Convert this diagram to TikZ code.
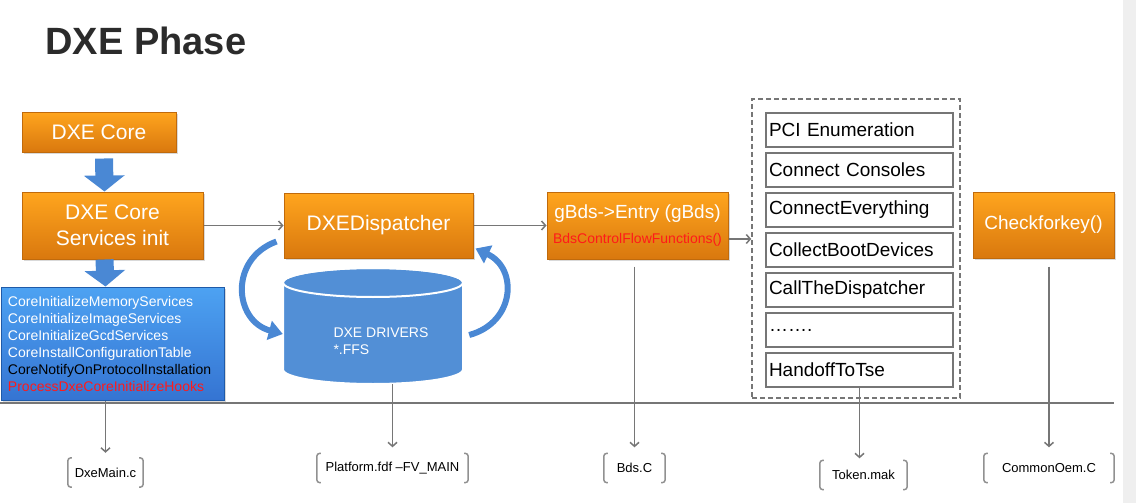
\documentclass[tikz,border=0pt]{standalone}
\usepackage{fontspec}
\setmainfont{Liberation Sans}
\usepackage{tikz}
\usetikzlibrary{positioning, arrows.meta, shadows}
\definecolor{DxeOrangeTop}{HTML}{FFA51E}
\definecolor{DxeOrangeBot}{HTML}{D9780E}
\definecolor{DxeOrangeLine}{HTML}{C06A0C}
\definecolor{DxeBlueTop}{HTML}{4DA2F2}
\definecolor{DxeBlueBot}{HTML}{3574D2}
\definecolor{DxeBlueLine}{HTML}{1F5AA8}
\definecolor{DxeBlueArrow}{HTML}{4A88D4}
\definecolor{DxeDrum}{HTML}{528FD6}
\definecolor{DxeGray}{HTML}{767676}
\definecolor{DxeRed}{HTML}{FF1A1A}
\definecolor{DxeTitle}{HTML}{2B2B2B}
\definecolor{StripGray}{HTML}{EFEFEF}
\tikzset{PhaseBox/.style={%
    shape=rectangle,%
    draw=DxeOrangeLine,%
    top color=DxeOrangeTop,%
    bottom color=DxeOrangeBot,%
    text=white,%
    font=\fontsize{21}{26}\selectfont,%
    align=center,%
    line width=1pt,%
    inner sep=2pt,%
    drop shadow={shadow xshift=1.5pt, shadow yshift=-2pt, opacity=0.3},%
}}
\tikzset{ServiceList/.style={%
    shape=rectangle,%
    draw=DxeBlueLine,%
    top color=DxeBlueTop,%
    bottom color=DxeBlueBot,%
    text=white,%
    font=\fontsize{14}{17}\selectfont,%
    align=left,%
    text width=209pt,%
    inner xsep=7pt,%
    minimum height=113pt,%
    line width=1pt,%
    drop shadow={shadow xshift=1.5pt, shadow yshift=-2pt, opacity=0.3},%
}}
\tikzset{StepBox/.style={%
    shape=rectangle,%
    draw=DxeGray,%
    fill=white,%
    line width=1.8pt,%
    font=\fontsize{19}{22}\selectfont,%
    align=left,%
    text width=181pt,%
    inner xsep=3pt,%
    minimum height=34pt,%
    node distance=4.2pt,%
}}
\tikzset{DrumSide/.style={%
    fill=DxeDrum,%
    draw=white,%
    line width=2pt,%
}}
\tikzset{FileLabel/.style={%
    shape=rectangle,%
    font=\fontsize{13}{15}\selectfont,%
    minimum height=29pt,%
    inner sep=1pt,%
}}
\tikzset{FileBracket/.style={%
    draw=DxeGray!80,%
    line width=1.5pt,%
    rounded corners=3pt,%
}}
\tikzset{FlowEdge/.style={%
    -{Straight Barb[length=4pt,width=9pt]},%
    draw=DxeGray,%
    line width=1.5pt,%
}}
\tikzset{DownArrow/.style={%
    -{Triangle[width=40pt,length=16pt]},%
    draw=DxeBlueArrow,%
    line width=18pt,%
}}
\tikzset{LoopArrow/.style={%
    -{Triangle[width=19pt,length=14pt]},%
    draw=DxeBlueArrow,%
    line width=6pt,%
    looseness=1.4,%
}}
\NewDocumentCommand{\fileBrackets}{m}{%
    \draw[FileBracket] ([xshift=4pt]#1.north west) -- (#1.north west) -- (#1.south west) -- ([xshift=4pt]#1.south west);%
    \draw[FileBracket] ([xshift=-4pt]#1.north east) -- (#1.north east) -- (#1.south east) -- ([xshift=-4pt]#1.south east);%
}

\begin{document}
\begin{tikzpicture}[x=1pt, y=-1pt]
    \useasboundingbox (0,0) rectangle (1136,503);
    \fill[StripGray] (1123,0) rectangle (1136,503);

    \node[anchor=west, text=DxeTitle, font=\fontsize{38}{41}\bfseries\selectfont] (title) at (42,41) {DXE Phase};

    % left column
    \node[PhaseBox, minimum width=154pt, minimum height=40pt] (core) at (99,132) {DXE Core};
    \node[PhaseBox, minimum width=181pt, minimum height=67pt] (init) at (112.5,225.5) {DXE Core\\Services init};
    \node[ServiceList, below=27pt of init] (svc) {CoreInitializeMemoryServices\\CoreInitializeImageServices\\CoreInitializeGcdServices\\CoreInstallConfigurationTable\\\textcolor{black}{CoreNotifyOnProtocolInstallation}\\\textcolor{DxeRed}{ProcessDxeCoreInitializeHooks}};

    % dispatcher and drivers
    \node[PhaseBox, minimum width=189pt, minimum height=65pt, right=80pt of init] (disp) {DXEDispatcher};
    \node[minimum width=180pt, minimum height=116pt, inner sep=0pt] (drv) at (373,326) {};
    \path[DrumSide] (283,282.5) -- (283,369.5) arc[start angle=180, end angle=360, x radius=90pt, y radius=14.5pt] -- (463,282.5) arc[start angle=0, end angle=180, x radius=90pt, y radius=14.5pt] -- cycle;
    \draw[white, line width=2pt] (373,282.5) ellipse[x radius=90pt, y radius=14.5pt];
    \node[anchor=west, text=white, align=left, font=\fontsize{14}{17}\selectfont] (drvtxt) at (330,341) {DXE DRIVERS\\*.FFS};

    % bds
    \node[PhaseBox, minimum width=181pt, minimum height=67pt, right=73pt of disp, font=\fontsize{19}{22}\selectfont] (gbds) {gBds->Entry (gBds)\\[3pt]{\fontsize{14}{16}\selectfont\textcolor{DxeRed}{BdsControlFlowFunctions()}}};
    \node[draw=DxeGray, dashed, dash pattern=on 5pt off 3pt, line width=1.5pt, minimum width=208pt, minimum height=299pt] (bdsgrp) at (856,248.5) {};
    \node[StepBox] (pci) at (859.5,130) {PCI Enumeration};
    \node[StepBox, below=of pci] (consoles) {Connect Consoles};
    \node[StepBox, below=of consoles] (connectall) {ConnectEverything};
    \node[StepBox, below=of connectall] (collect) {CollectBootDevices};
    \node[StepBox, below=of collect] (calldisp) {CallTheDispatcher};
    \node[StepBox, below=of calldisp] (more) {……. };
    \node[StepBox, below=of more] (handoff) {HandoffToTse};
    \node[PhaseBox, minimum width=141pt, minimum height=66pt, font=\fontsize{19}{22}\selectfont] (chk) at (1043.5,225) {Checkforkey()};

    % source files
    \node[FileLabel, minimum width=75pt] (fdxe) at (105.5,472.5) {DxeMain.c};
    \node[FileLabel, minimum width=151pt] (fplat) at (392.5,468) {Platform.fdf –FV\_MAIN};
    \node[FileLabel, minimum width=61pt] (fbds) at (634.5,468) {Bds.C};
    \node[FileLabel, minimum width=87pt] (ftok) at (863.5,475) {Token.mak};
    \node[FileLabel, minimum width=130pt] (foem) at (1049,468) {CommonOem.C};
    \fileBrackets{fdxe}
    \fileBrackets{fplat}
    \fileBrackets{fbds}
    \fileBrackets{ftok}
    \fileBrackets{foem}

    \draw[DownArrow, shorten <=6pt] ([xshift=5pt]core.south) -- ([xshift=-8pt]init.north);
    \draw[DownArrow] ([xshift=-8pt]init.south) -- ([xshift=-7pt]svc.north);

    \draw[FlowEdge] (init) -- (disp);
    \draw[FlowEdge] (disp) -- (gbds);
    \coordinate (bdsout) at ([yshift=-13.5pt]gbds.east);
    \draw[FlowEdge] (bdsout) -- (bdsout -| bdsgrp.west);

    \draw[LoopArrow] ([xshift=-7pt,yshift=-16pt]disp.west) to[out=200, in=165] ([xshift=0pt,yshift=-8pt]drv.west);
    \draw[LoopArrow] ([xshift=6pt,yshift=-9pt]drv.east) to[out=15, in=-25] ([xshift=2pt,yshift=-23pt]disp.east);

    % separator
    \draw[DxeGray, line width=2pt] (0,403) -- (1114,403);

    \draw[FlowEdge, shorten >=5pt] (fdxe.north |- svc.south) -- (fdxe.north);
    \draw[FlowEdge, shorten >=6pt] (fplat.north |- drv.south) -- (fplat.north);
    \draw[FlowEdge, shorten <=7pt, shorten >=6pt] (fbds.north |- gbds.south) -- (fbds.north);
    \draw[FlowEdge, shorten >=2pt] (handoff.south) -- (handoff.south |- ftok.north);
    \draw[FlowEdge, shorten <=8pt, shorten >=6pt] (foem.north |- chk.south) -- (foem.north);
\end{tikzpicture}
\end{document}
